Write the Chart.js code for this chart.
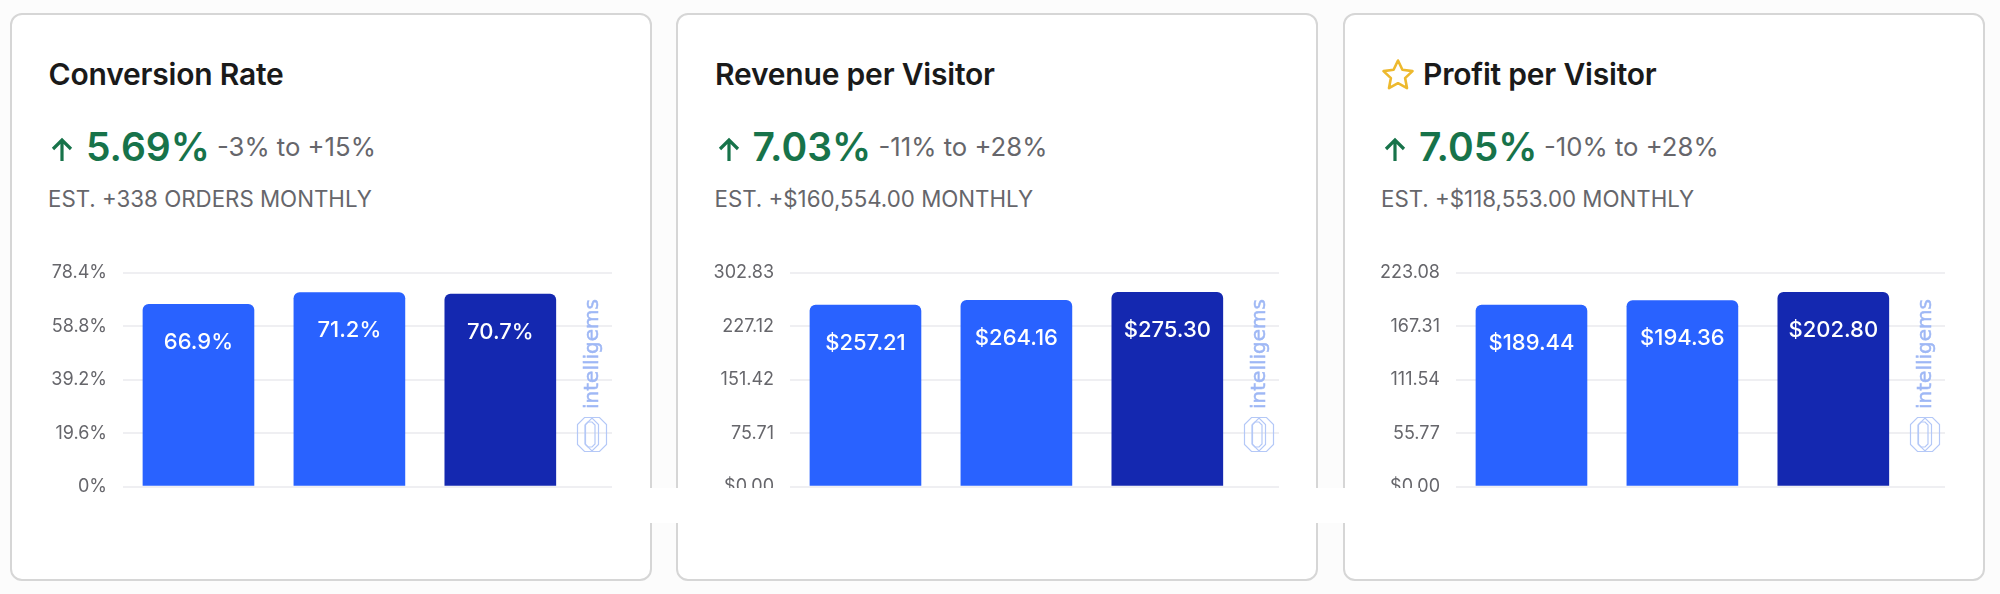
<!DOCTYPE html>
<html>
  <head>
    <meta charset="utf-8">
    <script src="https://cdn.jsdelivr.net/npm/chart.js"></script>
    <style>
      html, body { margin: 0; padding: 0; background: #fcfcfc; }
      body { position: relative; width: 2000px; height: 594px; overflow: hidden; font-family: Inter, sans-serif; }
      .card { position: absolute; top: 13px; width: 642px; height: 568px; box-sizing: border-box; background: #fff; border: 2px solid #d6d6d6; border-radius: 12px; }
      .txt { position: absolute; white-space: nowrap; line-height: 1; }
      .title { font-size: 30px; font-weight: 600; color: #1a1a1a; top: 44px; letter-spacing: -0.2px; }
      .big { font-size: 39px; font-weight: 600; color: #17734a; top: 112px; left: 74.5px; }
      .range { font-size: 25.7px; color: #66666b; top: 119px; }
      .est { font-size: 22.3px; color: #66666b; top: 173px; left: 36.5px; }
      canvas { position: absolute; left: -1.5px; top: 245px; }
      svg { position: absolute; }
      #band { position: absolute; left: 620px; top: 488px; width: 800px; height: 35px; background: #fff; }
    </style>
  </head>
  <body>
    <div id="cards"></div>
    <div id="band"></div>

    <script>
      const cardLefts = [9.5, 676, 1342.5];
      const titles = ["Conversion Rate", "Revenue per Visitor", "Profit per Visitor"];
      const lifts = ["5.69%", "7.03%", "7.05%"];
      const ranges = ["-3% to +15%", "-11% to +28%", "-10% to +28%"];
      const estimates = ["EST. +338 ORDERS MONTHLY", "EST. +$160,554.00 MONTHLY", "EST. +$118,553.00 MONTHLY"];

      const conversionValues = [66.9, 71.2, 70.7];
      const revenueValues = [257.21, 264.16, 275.30];
      const profitValues = [189.44, 194.36, 202.80];

      const conversionTicks = [0, 19.6, 39.2, 58.8, 78.4];
      const revenueTicks = [0, 75.71, 151.42, 227.12, 302.83];
      const profitTicks = [0, 55.77, 111.54, 167.31, 223.08];

      const conversionTickLabels = ["0%", "19.6%", "39.2%", "58.8%", "78.4%"];
      const revenueTickLabels = ["$0.00", "75.71", "151.42", "227.12", "302.83"];
      const profitTickLabels = ["$0.00", "55.77", "111.54", "167.31", "223.08"];

      const barColors = ["#2962ff", "#2962ff", "#1428b0"];
      const font = "Inter, sans-serif";

      // white value text sitting inside the top of each bar
      const valueLabels = {
        id: "valueLabels",
        afterDatasetsDraw(chart, args, opts) {
          const ctx = chart.ctx;
          ctx.save();
          ctx.fillStyle = "#fff";
          ctx.font = "500 22px " + font;
          ctx.textAlign = "center";
          ctx.textBaseline = "middle";
          chart.getDatasetMeta(0).data.forEach((bar, i) => {
            ctx.fillText(opts.format(chart.data.datasets[0].data[i].y), bar.x, bar.y + 38);
          });
          ctx.restore();
        },
      };

      function octagon(ctx, cx, cy, w, h, cut) {
        const x0 = cx - w / 2, x1 = cx + w / 2, y0 = cy - h / 2, y1 = cy + h / 2;
        ctx.beginPath();
        ctx.moveTo(x0 + cut, y0);
        ctx.lineTo(x1 - cut, y0);
        ctx.lineTo(x1, y0 + cut);
        ctx.lineTo(x1, y1 - cut);
        ctx.lineTo(x1 - cut, y1);
        ctx.lineTo(x0 + cut, y1);
        ctx.lineTo(x0, y1 - cut);
        ctx.lineTo(x0, y0 + cut);
        ctx.closePath();
        ctx.stroke();
      }

      // vertical brand mark to the right of the bars
      const brandMark = {
        id: "brandMark",
        afterDraw(chart) {
          const ctx = chart.ctx;
          const x = chart.chartArea.right - 20;
          const base = chart.chartArea.bottom;
          ctx.save();
          ctx.fillStyle = "#9fb8f5";
          ctx.strokeStyle = "#9fb8f5";
          ctx.lineWidth = 0.5;
          ctx.translate(x + 1, base - 77.5);
          ctx.rotate(-Math.PI / 2);
          ctx.font = '20px "DejaVu Sans"';
          ctx.textAlign = "left";
          ctx.textBaseline = "middle";
          ctx.fillText("intelligems", 0, 0);
          ctx.strokeText("intelligems", 0, 0);
          ctx.restore();
          ctx.save();
          ctx.strokeStyle = "#b4c8f7";
          ctx.lineWidth = 1.2;
          octagon(ctx, x - 4, base - 52, 21, 34, 7);
          octagon(ctx, x + 4, base - 52, 21, 34, 7);
          octagon(ctx, x - 2, base - 52, 10, 25, 3);
          ctx.restore();
        },
      };

      function drawChart(parent, values, ticks, tickLabels, format) {
        const canvas = document.createElement("canvas");
        canvas.width = 640;
        canvas.height = 240;
        parent.appendChild(canvas);
        new Chart(canvas.getContext("2d"), {
          type: "bar",
          data: {
            datasets: [{
              data: values.map((v, i) => ({ x: i, y: v })),
              backgroundColor: barColors,
              barThickness: 111,
              borderRadius: { topLeft: 6, topRight: 6 },
              borderSkipped: "bottom",
            }],
          },
          plugins: [valueLabels, brandMark],
          options: {
            responsive: false,
            animation: false,
            layout: { autoPadding: false, padding: { top: 13, bottom: 13.5, right: 38 } },
            plugins: {
              legend: { display: false },
              tooltip: { enabled: false },
              valueLabels: { format: format },
            },
            scales: {
              x: { type: "linear", display: false, offset: false, min: -0.5, max: 2.74 },
              y: {
                min: ticks[0],
                max: ticks[ticks.length - 1],
                afterBuildTicks(axis) { axis.ticks = ticks.map((v) => ({ value: v })); },
                afterFit(axis) { axis.width = 113; },
                border: { display: false },
                // the transparent tick length keeps the labels clear of the grid
                grid: { color: "#efeff2", lineWidth: 2, tickLength: 16, tickColor: "transparent" },
                ticks: {
                  padding: 0,
                  color: "#66666b",
                  font: { family: font, size: 18 },
                  callback: (v, i) => tickLabels[i],
                },
              },
            },
          },
        });
      }

      const chartValues = [conversionValues, revenueValues, profitValues];
      const chartTicks = [conversionTicks, revenueTicks, profitTicks];
      const chartTickLabels = [conversionTickLabels, revenueTickLabels, profitTickLabels];
      const formats = [(v) => v.toFixed(1) + "%", (v) => "$" + v.toFixed(2), (v) => "$" + v.toFixed(2)];

      function addText(parent, cls, text, left) {
        const el = document.createElement("div");
        el.className = "txt " + cls;
        el.textContent = text;
        if (left !== undefined) el.style.left = left + "px";
        parent.appendChild(el);
        return el;
      }

      cardLefts.forEach((left, i) => {
        const card = document.createElement("div");
        card.className = "card";
        card.style.left = left + "px";
        document.getElementById("cards").appendChild(card);

        addText(card, "title", titles[i], i === 2 ? 78.5 : 37);
        if (i === 2) {
          card.insertAdjacentHTML("beforeend",
            '<svg style="left:36.5px;top:43px" width="34" height="32" viewBox="0 0 34 32"><path d="M17 2.5l4.4 9.3 10.1 1.3-7.4 7 1.9 10-9-4.9-9 4.9 1.9-10-7.4-7 10.1-1.3z" fill="none" stroke="#edb92e" stroke-width="2.6" stroke-linejoin="round"/></svg>');
        }
        card.insertAdjacentHTML("beforeend",
          '<svg style="left:38.5px;top:122px" width="24" height="26" viewBox="0 0 24 26"><path d="M12 24V3M3 12l9-9 9 9" fill="none" stroke="#17734a" stroke-width="3.2"/></svg>');
        const big = addText(card, "big", lifts[i]);
        addText(card, "range", ranges[i], 74.5 + big.offsetWidth + 7);
        addText(card, "est", estimates[i]);

        drawChart(card, chartValues[i], chartTicks[i], chartTickLabels[i], formats[i]);
      });
    </script>
  </body>
</html>
